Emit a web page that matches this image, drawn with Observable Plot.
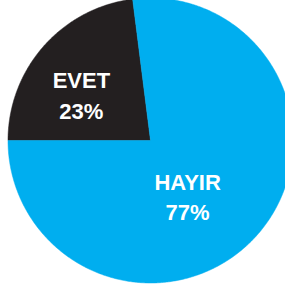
<!DOCTYPE html>
<html>
<head>
<meta charset="utf-8">
<script src="https://cdn.jsdelivr.net/npm/d3@7"></script>
<script src="https://cdn.jsdelivr.net/npm/@observablehq/plot@0.6"></script>
<style>
  html, body { margin: 0; padding: 0; background: #fff; }
  #chart svg { display: block; }
</style>
</head>
<body>
<div id="chart"></div>
<script>
const categories = ["EVET", "HAYIR"];
const values = [23, 77];
const labels = ["EVET\n23%", "HAYIR\n77%"];
const colors = ["#231f20", "#00aeef"];

const W = 285, H = 286;
const cx = 150, cy = 140, R = 142.5;

const data = categories.map((c, i) => ({category: c, value: values[i], label: labels[i]}));
const arcs = d3.pie().sort(null).value(d => d.value).startAngle(-Math.PI / 2)(data);

// polygon points for each slice (unit radius; angle clockwise from 12 o'clock)
const pts = [];
arcs.forEach(a => {
  const c = a.data.category;
  pts.push({category: c, x: 0, y: 0});
  const n = Math.max(2, Math.ceil((a.endAngle - a.startAngle) / (Math.PI / 360)));
  for (let k = 0; k <= n; k++) {
    const t = a.startAngle + (a.endAngle - a.startAngle) * k / n;
    pts.push({category: c, x: Math.sin(t), y: Math.cos(t)});
  }
  pts.push({category: c, x: 0, y: 0});
});

const kLabel = 0.6;
const labelPts = arcs.map(a => {
  const m = (a.startAngle + a.endAngle) / 2;
  return {category: a.data.category, label: a.data.label, x: Math.sin(m) * kLabel, y: Math.cos(m) * kLabel};
});

const textStyle = {
  text: "label",
  fill: "white",
  fontSize: 22,
  fontWeight: "bold",
  fontFamily: "'Liberation Sans', Arial, Helvetica, sans-serif",
  lineHeight: 1.4,
  textAnchor: "middle"
};

const plot = Plot.plot({
  width: W,
  height: H,
  margin: 0,
  x: {domain: [-cx / R, (W - cx) / R], axis: null},
  y: {domain: [-(H - cy) / R, cy / R], axis: null},
  color: {domain: categories, range: colors},
  marks: [
    Plot.line(pts, {x: "x", y: "y", z: "category", fill: "category", stroke: "category", strokeWidth: 0.5, curve: "linear"}),
    Plot.text(labelPts.filter(d => d.category === "EVET"), {x: "x", y: "y", ...textStyle, dx: -5, dy: 10}),
    Plot.text(labelPts.filter(d => d.category === "HAYIR"), {x: "x", y: "y", ...textStyle, dx: -27, dy: -2})
  ]
});
document.getElementById("chart").appendChild(plot);
</script>
</body>
</html>
